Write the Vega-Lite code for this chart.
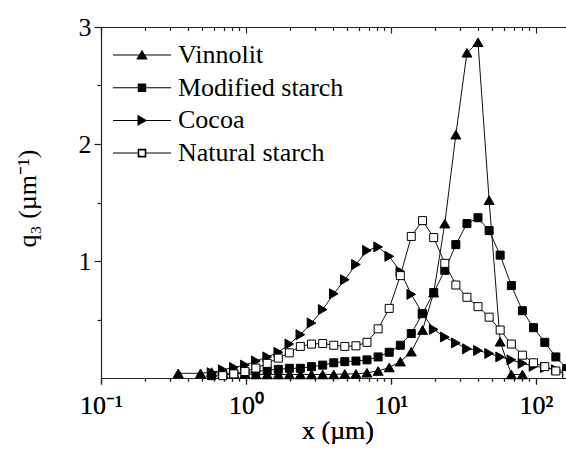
{
  "$schema": "https://vega.github.io/schema/vega-lite/v6.json",
  "width": 465,
  "height": 351,
  "autosize": {"type": "none"},
  "padding": {"left": 101, "top": 27, "right": 0, "bottom": 74},
  "background": "white",
  "data": {"values": [
    {"series": "Vinnolit", "x": 0.341, "q3": 0.04},
    {"series": "Vinnolit", "x": 0.486, "q3": 0.04},
    {"series": "Vinnolit", "x": 0.579, "q3": 0.05},
    {"series": "Vinnolit", "x": 0.691, "q3": 0.04},
    {"series": "Vinnolit", "x": 0.824, "q3": 0.04},
    {"series": "Vinnolit", "x": 0.983, "q3": 0.035},
    {"series": "Vinnolit", "x": 1.17, "q3": 0.03},
    {"series": "Vinnolit", "x": 1.40, "q3": 0.03},
    {"series": "Vinnolit", "x": 1.67, "q3": 0.03},
    {"series": "Vinnolit", "x": 1.99, "q3": 0.03},
    {"series": "Vinnolit", "x": 2.37, "q3": 0.03},
    {"series": "Vinnolit", "x": 2.83, "q3": 0.03},
    {"series": "Vinnolit", "x": 3.38, "q3": 0.03},
    {"series": "Vinnolit", "x": 4.03, "q3": 0.03},
    {"series": "Vinnolit", "x": 4.80, "q3": 0.035},
    {"series": "Vinnolit", "x": 5.73, "q3": 0.035},
    {"series": "Vinnolit", "x": 6.83, "q3": 0.045},
    {"series": "Vinnolit", "x": 8.15, "q3": 0.06},
    {"series": "Vinnolit", "x": 9.72, "q3": 0.09},
    {"series": "Vinnolit", "x": 11.6, "q3": 0.14},
    {"series": "Vinnolit", "x": 13.8, "q3": 0.225},
    {"series": "Vinnolit", "x": 16.5, "q3": 0.41},
    {"series": "Vinnolit", "x": 19.7, "q3": 0.73},
    {"series": "Vinnolit", "x": 23.5, "q3": 1.32},
    {"series": "Vinnolit", "x": 28.0, "q3": 2.08},
    {"series": "Vinnolit", "x": 33.4, "q3": 2.78},
    {"series": "Vinnolit", "x": 39.8, "q3": 2.87},
    {"series": "Vinnolit", "x": 47.5, "q3": 1.52},
    {"series": "Vinnolit", "x": 56.6, "q3": 0.31},
    {"series": "Vinnolit", "x": 67.6, "q3": 0.03},
    {"series": "Vinnolit", "x": 80.6, "q3": 0.03},
    {"series": "Modified starch", "x": 0.579, "q3": 0.02},
    {"series": "Modified starch", "x": 0.691, "q3": 0.03},
    {"series": "Modified starch", "x": 0.824, "q3": 0.035},
    {"series": "Modified starch", "x": 0.983, "q3": 0.045},
    {"series": "Modified starch", "x": 1.17, "q3": 0.055},
    {"series": "Modified starch", "x": 1.40, "q3": 0.068},
    {"series": "Modified starch", "x": 1.67, "q3": 0.074},
    {"series": "Modified starch", "x": 1.99, "q3": 0.083},
    {"series": "Modified starch", "x": 2.37, "q3": 0.083},
    {"series": "Modified starch", "x": 2.83, "q3": 0.097},
    {"series": "Modified starch", "x": 3.38, "q3": 0.11},
    {"series": "Modified starch", "x": 4.03, "q3": 0.13},
    {"series": "Modified starch", "x": 4.80, "q3": 0.14},
    {"series": "Modified starch", "x": 5.73, "q3": 0.145},
    {"series": "Modified starch", "x": 6.83, "q3": 0.155},
    {"series": "Modified starch", "x": 8.15, "q3": 0.18},
    {"series": "Modified starch", "x": 9.72, "q3": 0.22},
    {"series": "Modified starch", "x": 11.6, "q3": 0.28},
    {"series": "Modified starch", "x": 13.8, "q3": 0.38},
    {"series": "Modified starch", "x": 16.5, "q3": 0.55},
    {"series": "Modified starch", "x": 19.7, "q3": 0.73},
    {"series": "Modified starch", "x": 23.5, "q3": 0.92},
    {"series": "Modified starch", "x": 28.0, "q3": 1.14},
    {"series": "Modified starch", "x": 33.4, "q3": 1.32},
    {"series": "Modified starch", "x": 39.8, "q3": 1.37},
    {"series": "Modified starch", "x": 47.5, "q3": 1.26},
    {"series": "Modified starch", "x": 56.6, "q3": 1.05},
    {"series": "Modified starch", "x": 67.6, "q3": 0.79},
    {"series": "Modified starch", "x": 80.6, "q3": 0.575},
    {"series": "Modified starch", "x": 96.1, "q3": 0.43},
    {"series": "Modified starch", "x": 115, "q3": 0.305},
    {"series": "Modified starch", "x": 137, "q3": 0.18},
    {"series": "Modified starch", "x": 163, "q3": 0.08},
    {"series": "Cocoa", "x": 0.579, "q3": 0.045},
    {"series": "Cocoa", "x": 0.691, "q3": 0.07},
    {"series": "Cocoa", "x": 0.824, "q3": 0.09},
    {"series": "Cocoa", "x": 0.983, "q3": 0.11},
    {"series": "Cocoa", "x": 1.17, "q3": 0.145},
    {"series": "Cocoa", "x": 1.40, "q3": 0.18},
    {"series": "Cocoa", "x": 1.67, "q3": 0.22},
    {"series": "Cocoa", "x": 1.99, "q3": 0.29},
    {"series": "Cocoa", "x": 2.37, "q3": 0.37},
    {"series": "Cocoa", "x": 2.83, "q3": 0.47},
    {"series": "Cocoa", "x": 3.38, "q3": 0.585},
    {"series": "Cocoa", "x": 4.03, "q3": 0.72},
    {"series": "Cocoa", "x": 4.80, "q3": 0.84},
    {"series": "Cocoa", "x": 5.73, "q3": 0.97},
    {"series": "Cocoa", "x": 6.83, "q3": 1.09},
    {"series": "Cocoa", "x": 8.15, "q3": 1.12},
    {"series": "Cocoa", "x": 9.72, "q3": 1.04},
    {"series": "Cocoa", "x": 11.6, "q3": 0.91},
    {"series": "Cocoa", "x": 13.8, "q3": 0.715},
    {"series": "Cocoa", "x": 16.5, "q3": 0.55},
    {"series": "Cocoa", "x": 19.7, "q3": 0.415},
    {"series": "Cocoa", "x": 23.5, "q3": 0.35},
    {"series": "Cocoa", "x": 28.0, "q3": 0.30},
    {"series": "Cocoa", "x": 33.4, "q3": 0.25},
    {"series": "Cocoa", "x": 39.8, "q3": 0.235},
    {"series": "Cocoa", "x": 47.5, "q3": 0.21},
    {"series": "Cocoa", "x": 56.6, "q3": 0.18},
    {"series": "Cocoa", "x": 67.6, "q3": 0.155},
    {"series": "Cocoa", "x": 80.6, "q3": 0.125},
    {"series": "Cocoa", "x": 96.1, "q3": 0.10},
    {"series": "Cocoa", "x": 115, "q3": 0.09},
    {"series": "Cocoa", "x": 137, "q3": 0.07},
    {"series": "Cocoa", "x": 163, "q3": 0.05},
    {"series": "Natural starch", "x": 0.691, "q3": 0.02},
    {"series": "Natural starch", "x": 0.824, "q3": 0.035},
    {"series": "Natural starch", "x": 0.983, "q3": 0.055},
    {"series": "Natural starch", "x": 1.17, "q3": 0.085},
    {"series": "Natural starch", "x": 1.40, "q3": 0.125},
    {"series": "Natural starch", "x": 1.67, "q3": 0.17},
    {"series": "Natural starch", "x": 1.99, "q3": 0.215},
    {"series": "Natural starch", "x": 2.37, "q3": 0.27},
    {"series": "Natural starch", "x": 2.83, "q3": 0.29},
    {"series": "Natural starch", "x": 3.38, "q3": 0.295},
    {"series": "Natural starch", "x": 4.03, "q3": 0.28},
    {"series": "Natural starch", "x": 4.80, "q3": 0.27},
    {"series": "Natural starch", "x": 5.73, "q3": 0.275},
    {"series": "Natural starch", "x": 6.83, "q3": 0.305},
    {"series": "Natural starch", "x": 8.15, "q3": 0.42},
    {"series": "Natural starch", "x": 9.72, "q3": 0.595},
    {"series": "Natural starch", "x": 11.6, "q3": 0.875},
    {"series": "Natural starch", "x": 13.8, "q3": 1.21},
    {"series": "Natural starch", "x": 16.5, "q3": 1.345},
    {"series": "Natural starch", "x": 19.7, "q3": 1.20},
    {"series": "Natural starch", "x": 23.5, "q3": 0.98},
    {"series": "Natural starch", "x": 28.0, "q3": 0.795},
    {"series": "Natural starch", "x": 33.4, "q3": 0.69},
    {"series": "Natural starch", "x": 39.8, "q3": 0.61},
    {"series": "Natural starch", "x": 47.5, "q3": 0.52},
    {"series": "Natural starch", "x": 56.6, "q3": 0.41},
    {"series": "Natural starch", "x": 67.6, "q3": 0.29},
    {"series": "Natural starch", "x": 80.6, "q3": 0.195},
    {"series": "Natural starch", "x": 96.1, "q3": 0.13},
    {"series": "Natural starch", "x": 115, "q3": 0.097},
    {"series": "Natural starch", "x": 137, "q3": 0.06},
    {"series": "Natural starch", "x": 163, "q3": 0.03}
  ]},
  "encoding": {
    "x": {
      "field": "x", "type": "quantitative",
      "scale": {"type": "log", "domain": [0.1, 161], "nice": false},
      "axis": {
        "orient": "bottom",
        "title": "x (µm)",
        "values": [0.1,0.2,0.3,0.4,0.5,0.6,0.7,0.8,0.9,1,2,3,4,5,6,7,8,9,10,20,30,40,50,60,70,80,90,100],
        "labelExpr": "datum.value == 0.1 ? '10⁻¹' : datum.value == 1 ? '10⁰' : datum.value == 10 ? '10¹' : datum.value == 100 ? '10²' : ''",
        "tickSize": {"condition": {"test": "indexof([0.1,1,10,100], datum.value) >= 0", "value": 6}, "value": 3},
        "labelPadding": 8,
        "labelBaseline": "top",
        "labelFont": "Liberation Serif",
        "labelFontSize": 26,
        "titleFont": "Liberation Serif",
        "titleFontSize": 26,
        "titleX": 236.5,
        "titleY": 60,
        "titleBaseline": "alphabetic"
      }
    },
    "y": {
      "field": "q3", "type": "quantitative",
      "scale": {"domain": [0, 3], "nice": false},
      "axis": {
        "title": "q₃ (µm⁻¹)",
        "values": [0.5,1,1.5,2,2.5,3],
        "labelExpr": "datum.value % 1 == 0 ? format(datum.value, 'd') : ''",
        "tickSize": {"condition": {"test": "datum.value % 1 == 0", "value": 7}, "value": 4},
        "labelPadding": 3,
        "labelFont": "Liberation Serif",
        "labelFontSize": 26,
        "titleFont": "Liberation Serif",
        "titleFontSize": 26,
        "titleX": -66,
        "titleY": 171,
        "titleBaseline": "alphabetic"
      }
    }
  },
  "layer": [
    {
      "mark": {"type": "line", "color": "#111111", "strokeWidth": 1},
      "encoding": {"detail": {"field": "series", "type": "nominal"}}
    },
    {
      "mark": {"type": "point", "filled": true, "stroke": "black", "strokeWidth": 1, "opacity": 1},
      "encoding": {
        "shape": {
          "field": "series", "type": "nominal",
          "scale": {"domain": ["Vinnolit", "Modified starch", "Cocoa", "Natural starch"], "range": ["triangle-up", "square", "triangle-right", "square"]},
          "legend": null
        },
        "fill": {"condition": {"test": "datum.series == 'Natural starch'", "value": "white"}, "value": "black"},
        "size": {"condition": {"test": "datum.series == 'Vinnolit' || datum.series == 'Cocoa'", "value": 100}, "value": 64}
      }
    },
    {
      "mark": {"type": "point", "filled": true, "color": "black", "opacity": 0, "size": 400},
      "encoding": {
        "x": {
          "field": "x", "type": "quantitative",
          "scale": {"type": "log", "domain": [0.1, 161], "nice": false},
          "axis": {
            "orient": "top",
            "title": null,
            "labels": false,
            "values": [0.1,0.2,0.3,0.4,0.5,0.6,0.7,0.8,0.9,1,2,3,4,5,6,7,8,9,10,20,30,40,50,60,70,80,90,100],
            "tickSize": {"condition": {"test": "indexof([0.1,1,10,100], datum.value) >= 0", "value": -6}, "value": -3.5}
          }
        },
        "shape": {
          "field": "series", "type": "nominal",
          "scale": {
            "domain": ["Vinnolit", "Modified starch", "Cocoa", "Natural starch"],
            "range": [
              "M-2.9,-0.05H2.9V0.05H-2.9ZM0,-0.52L0.58,0.45L-0.58,0.45Z",
              "M-2.9,-0.05H2.9V0.05H-2.9ZM-0.42,-0.42H0.42V0.42H-0.42Z",
              "M-2.9,-0.05H2.9V0.05H-2.9ZM-0.45,-0.56L0.52,0L-0.45,0.56Z",
              "M-2.9,-0.05H-0.4V0.05H-2.9ZM0.4,-0.05H2.9V0.05H0.4ZM-0.43,-0.43H0.43V0.43H-0.43ZM-0.27,-0.27V0.27H0.27V-0.27Z"
            ]
          },
          "legend": {
            "orient": "none",
            "legendX": 28,
            "legendY": 15,
            "title": null,
            "padding": 0,
            "rowPadding": 6.7,
            "symbolOffset": 0,
            "labelOffset": 23,
            "symbolSize": 400,
            "symbolStrokeWidth": 0,
            "symbolFillColor": "black",
            "symbolOpacity": 1,
            "labelFont": "Liberation Serif",
            "labelFontSize": 26,
            "labelColor": "black",
            "labelLimit": 400,
            "encode": {
              "symbols": {
                "fill": {"value": "black"},
                "opacity": {"value": 1},
                "size": {"value": 400}
              }
            }
          }
        }
      }
    }
  ],
  "resolve": {
    "scale": {"shape": "independent"},
    "axis": {"x": "independent"},
    "legend": {"shape": "independent"}
  },
  "config": {
    "view": {"stroke": null},
    "font": "Liberation Serif",
    "axis": {
      "grid": false,
      "domainColor": "#222222",
      "domainWidth": 1.2,
      "tickColor": "#222222",
      "tickWidth": 1.2,
      "labelFont": "Liberation Serif",
      "labelFontSize": 26,
      "labelColor": "black",
      "labelFlush": false,
      "labelOverlap": false,
      "labelBound": false,
      "titleFont": "Liberation Serif",
      "titleFontSize": 26,
      "titleFontWeight": "normal",
      "titleColor": "black"
    }
  }
}
